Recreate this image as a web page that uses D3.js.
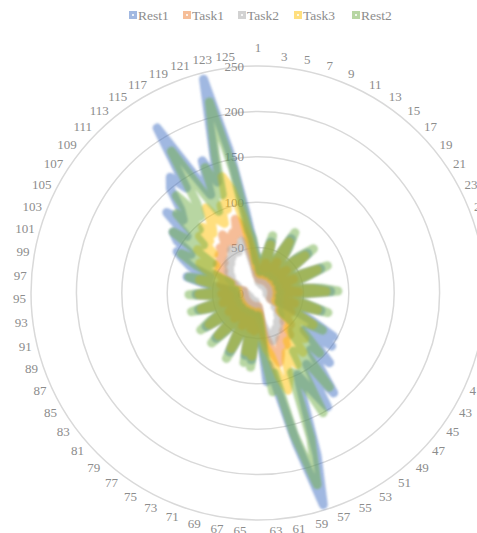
<!DOCTYPE html>
<html>
<head>
<meta charset="utf-8">
<script src="https://cdn.jsdelivr.net/npm/d3@7"></script>
<style>
  body { margin: 0; background: #fff; }
  svg { display: block; font-family: "Liberation Serif", "Times New Roman", serif; }
</style>
</head>
<body>
<div id="chart"></div>
<script>
const categories = [1,2,3,4,5,6,7,8,9,10,11,12,13,14,15,16,17,18,19,20,21,22,23,24,25,26,27,28,29,30,
  31,32,33,34,35,36,37,38,39,40,41,42,43,44,45,46,47,48,49,50,51,52,53,54,55,56,57,58,59,60,
  61,62,63,64,65,66,67,68,69,70,71,72,73,74,75,76,77,78,79,80,81,82,83,84,85,86,87,88,89,90,
  91,92,93,94,95,96,97,98,99,100,101,102,103,104,105,106,107,108,109,110,111,112,113,114,115,116,117,118,119,120,
  121,122,123,124,125,126];

const radialTicks = [0, 50, 100, 150, 200, 250];

const seriesNames = ["Rest1", "Task1", "Task2", "Task3", "Rest2"];
const seriesColors = ["#4472C4", "#ED7D31", "#A5A5A5", "#FFC000", "#70AD47"];

const rest1 = [36,24,22,22,36,58,34,22,22,23,40,70,54,24,22,22,36,56,70,38,22,22,24,43,74,50,24,22,22,40,
  63,80,40,22,22,24,50,72,40,24,40,65,96,70,100,65,85,110,85,105,138,95,147,120,100,130,190,244,170,110,
  80,98,35,22,36,74,40,70,28,22,24,45,72,38,22,22,25,50,68,34,22,22,38,68,54,24,22,23,45,68,
  40,22,22,38,68,45,28,40,60,80,65,55,80,90,100,85,106,115,100,134,115,125,150,160,140,213,150,120,158,130,
  170,243,160,90,55,40];

const task1 = [24,16,15,15,22,34,20,15,15,15,24,40,32,16,15,15,22,33,40,22,15,15,16,26,42,30,16,15,15,24,
  36,45,24,15,15,16,30,42,22,15,16,28,42,36,30,30,42,50,42,48,58,50,55,65,56,62,72,80,70,55,
  48,36,20,15,22,42,24,40,17,15,16,27,40,22,15,15,16,30,38,20,15,15,23,38,32,16,15,15,27,40,
  24,15,15,23,40,27,16,16,28,42,35,28,34,44,50,44,45,55,50,50,60,56,65,60,64,75,66,62,72,68,
  85,78,60,40,30,20];

const task2 = [18,15,12,12,15,18,15,12,10,12,16,20,22,18,12,10,12,18,22,16,12,10,10,15,20,22,18,12,10,12,
  20,24,18,12,10,14,20,24,18,14,16,22,26,28,26,24,30,34,32,36,40,38,42,46,44,48,52,55,50,42,
  36,30,22,16,18,22,20,22,15,10,12,18,22,18,12,10,12,18,22,16,12,10,14,20,22,16,10,12,18,22,
  20,14,12,16,22,20,16,16,22,28,28,24,28,32,36,34,36,40,40,42,46,44,48,48,50,56,52,50,54,55,
  60,58,45,32,24,20];

const task3 = [34,22,21,21,34,55,32,21,21,22,38,66,51,22,21,21,34,53,66,36,21,21,22,41,70,47,22,21,21,38,
  60,75,38,21,21,22,47,68,36,21,22,40,70,52,30,32,55,72,50,52,82,62,62,90,72,80,100,112,95,70,
  62,48,26,21,34,70,38,66,26,21,22,43,68,36,21,21,23,47,64,32,21,21,36,64,51,22,21,22,43,65,
  38,21,21,36,65,43,22,22,40,66,50,32,42,62,72,58,55,82,68,65,90,78,95,82,90,110,92,85,105,98,
  134,118,85,55,42,28];

const rest2 = [40,28,24,25,40,65,38,25,24,26,45,78,60,28,24,25,40,62,78,42,25,24,27,48,82,55,27,24,25,45,
  70,88,45,25,24,28,55,80,42,25,26,45,82,58,32,35,70,95,55,60,130,80,75,150,100,95,170,221,160,90,
  110,65,32,25,40,82,45,78,32,24,27,50,80,42,24,24,28,55,75,38,24,25,42,75,60,28,24,26,50,76,
  45,25,24,42,76,50,25,25,45,78,55,32,45,75,95,65,60,115,85,80,125,95,140,105,120,183,125,100,150,115,
  160,217,140,70,60,35];

const seriesValues = [rest1, task1, task2, task3, rest2];

const width = 477;
const height = 533;
const cx = 258;
const cy = 293;
const outerRadius = 227;
const labelRadius = 232;

const svg = d3.select("#chart")
  .append("svg")
  .attr("width", width)
  .attr("height", height);

const defs = svg.append("defs");
defs.append("filter")
  .attr("id", "soft")
  .attr("x", "-10%").attr("y", "-10%")
  .attr("width", "120%").attr("height", "120%")
  .append("feGaussianBlur")
  .attr("stdDeviation", 1.3);

const r = d3.scaleLinear().domain([0, 250]).range([0, outerRadius]);

const angle = d3.scaleBand()
  .domain(categories)
  .range([0, 2 * Math.PI])
  .paddingInner(0)
  .align(0);

const g = svg.append("g").attr("transform", `translate(${cx},${cy})`);

// grid rings
g.selectAll("circle.grid")
  .data(radialTicks.filter((d) => d > 0))
  .join("circle")
  .attr("class", "grid")
  .attr("r", (d) => r(d))
  .attr("fill", "none")
  .attr("stroke", "#d9d9d9")
  .attr("stroke-width", 1.5);

// radial value labels
g.selectAll("text.rtick")
  .data(radialTicks)
  .join("text")
  .attr("class", "rtick")
  .attr("x", -14)
  .attr("y", (d) => -r(d))
  .attr("dy", "0.35em")
  .attr("text-anchor", "end")
  .attr("font-size", 13)
  .attr("fill", "#8c8c8c")
  .text((d) => d);

// series lines
const line = d3.lineRadial()
  .angle((d, i) => angle(categories[i]))
  .radius((d) => r(d))
  .curve(d3.curveLinearClosed);

g.selectAll("path.series")
  .data(seriesValues)
  .join("path")
  .attr("class", "series")
  .attr("d", (d) => line(d))
  .attr("fill", "none")
  .attr("stroke", (d, i) => seriesColors[i])
  .attr("stroke-opacity", 0.5)
  .attr("stroke-width", 9)
  .attr("stroke-linejoin", "round")
  .attr("filter", "url(#soft)");

// category labels, every other one
const shown = categories.filter((c, i) => i % 2 === 0);
g.selectAll("text.cat")
  .data(shown)
  .join("text")
  .attr("class", "cat")
  .each(function (c) {
    const a = angle(c);
    const s = Math.sin(a);
    const co = Math.cos(a);
    const mid = Math.abs(s) < 0.03;
    d3.select(this)
      .attr("x", labelRadius * s)
      .attr("y", -labelRadius * co - co * (mid ? 14 : 6))
      .attr("dy", "0.35em")
      .attr("text-anchor", s > 0.03 ? "start" : s < -0.03 ? "end" : "middle");
  })
  .attr("font-size", 13)
  .attr("fill", "#8c8c8c")
  .text((c) => c);

// legend
const legendX = [129, 183, 238, 294, 352];
const legend = svg.append("g")
  .selectAll("g")
  .data(seriesNames)
  .join("g")
  .attr("transform", (d, i) => `translate(${legendX[i]},15)`);

legend.append("rect")
  .attr("x", 0).attr("y", -4)
  .attr("width", 8).attr("height", 8)
  .attr("fill", (d, i) => seriesColors[i])
  .attr("fill-opacity", 0.5);

legend.append("rect")
  .attr("x", 3).attr("y", -1)
  .attr("width", 2).attr("height", 2)
  .attr("fill", "#fff")
  .attr("fill-opacity", 0.8);

legend.append("text")
  .attr("x", 9)
  .attr("dy", "0.35em")
  .attr("font-size", 13.5)
  .attr("fill", "#8c8c8c")
  .text((d) => d);
</script>
</body>
</html>
